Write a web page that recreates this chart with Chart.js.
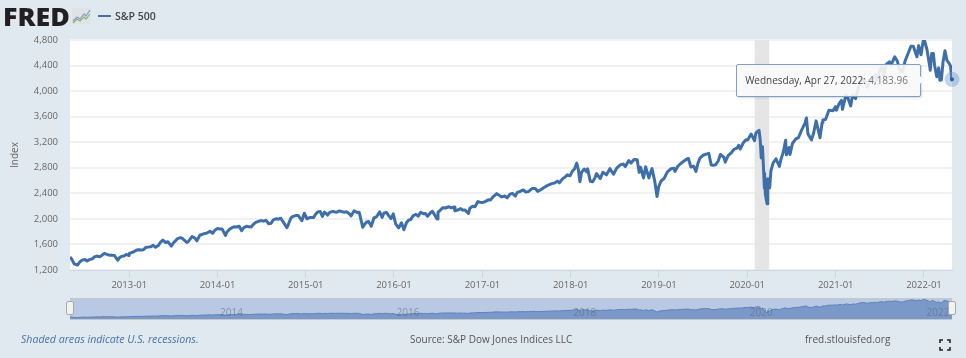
<!DOCTYPE html>
<html>
<head>
<meta charset="utf-8">
<script src="https://cdn.jsdelivr.net/npm/chart.js@4"></script>
<style>
    html, body { margin: 0; padding: 0; background: #e1e9f0; overflow: hidden; }
    body { width: 966px; height: 358px; position: relative; font-family: "Open Sans", sans-serif; color: #666; }
    canvas { position: absolute; left: 0; }
    #mainChart { top: 0; }
    #navChart { top: 294px; }
    .label { position: absolute; white-space: nowrap; }
    #logo { left: 3px; top: 0; font: 800 25px/32px "Open Sans", sans-serif; letter-spacing: 0; color: #231f20; transform: scaleX(1.07); transform-origin: left center; }
    #logoIcon { position: absolute; left: 72px; top: 8px; }
    #legendLine { position: absolute; left: 98px; top: 15px; width: 13px; height: 2px; background: #4572a7; }
    #legendText { left: 115px; top: 8px; font: 600 10.5px/16px "Open Sans", sans-serif; color: #444; }
    #note { left: 21px; top: 331px; font: italic 10.6px/16px "Open Sans", sans-serif; color: #4572a7; }
    #source { left: 410px; top: 331px; font: 10px/16px "Open Sans", sans-serif; color: #555; }
    #site { left: 805px; top: 331px; font: 10px/16px "Open Sans", sans-serif; color: #555; }
    #fullscreen { position: absolute; left: 939px; top: 339px; }
    #tooltip { position: absolute; left: 736px; top: 64px; width: 179px; height: 31px; padding-right: 4px; background: rgba(248, 248, 248, 0.9); border: 1px solid #7f9fc6; border-radius: 2px; box-shadow: 1px 1px 2px rgba(0,0,0,0.15); font: 10px/31px "Open Sans", sans-serif; color: #444; text-align: center; }
    #tooltip span { color: #777; }
    #tooltipArrow { position: absolute; left: 919px; top: 75px; width: 0; height: 0; border-top: 5px solid transparent; border-bottom: 5px solid transparent; border-left: 5px solid #f8f8f8; }
    .handle { position: absolute; top: 301px; width: 6px; height: 12px; background: #f2f2f2; border: 1px solid #a8a8a8; border-radius: 2px; }
</style>
</head>
<body>
<canvas id="mainChart" width="966" height="290"></canvas>
<canvas id="navChart" width="966" height="40"></canvas>

<div id="logo" class="label">FRED</div>
<svg id="logoIcon" width="19" height="16" viewBox="0 0 19 16">
    <rect width="19" height="16" fill="#dfe3e4"/>
    <polyline points="1,13 5,9 8,11 12,6 14,8 18,2" fill="none" stroke="#7f9fc6" stroke-width="1.2"/>
    <polyline points="1,15 5,11 8,13 12,9 14,11 18,6" fill="none" stroke="#8db07a" stroke-width="1.2"/>
</svg>
<div id="legendLine"></div>
<div id="legendText" class="label">S&amp;P 500</div>

<div id="tooltip">Wednesday, Apr 27, 2022: <span>4,183.96</span></div>
<div id="tooltipArrow"></div>

<div class="handle" style="left:66px"></div>
<div class="handle" style="left:948px"></div>

<div id="note" class="label">Shaded areas indicate U.S. recessions.</div>
<div id="source" class="label">Source: S&amp;P Dow Jones Indices LLC</div>
<div id="site" class="label">fred.stlouisfed.org</div>
<svg id="fullscreen" width="12" height="12" viewBox="0 0 12 12" fill="none" stroke="#222" stroke-width="1.6">
    <path d="M1 4V1H4M8 1H11V4M11 8V11H8M4 11H1V8"/>
</svg>

<script>
// Valores
const dates = [
    '2012-05-01','2012-05-10','2012-05-18','2012-06-01','2012-06-10','2012-06-20','2012-07-02','2012-07-10','2012-07-20','2012-08-01','2012-08-10','2012-08-20','2012-09-01','2012-09-10','2012-09-20','2012-10-01','2012-10-10','2012-10-20','2012-11-01','2012-11-09','2012-11-15','2012-11-20','2012-12-01','2012-12-10','2012-12-20','2012-12-31',
    '2013-01-02','2013-01-10','2013-01-20','2013-02-01','2013-02-10','2013-02-20','2013-03-01','2013-03-10','2013-03-20','2013-04-01','2013-04-10','2013-04-20','2013-05-01','2013-05-10','2013-05-20','2013-06-01','2013-06-10','2013-06-24','2013-07-01','2013-07-10','2013-07-20','2013-08-01','2013-08-10','2013-08-27','2013-09-01','2013-09-10','2013-09-18','2013-10-01','2013-10-08','2013-10-20','2013-11-01','2013-11-10','2013-11-20','2013-12-01','2013-12-12','2013-12-20','2013-12-31',
    '2014-01-10','2014-01-20','2014-02-03','2014-02-10','2014-02-20','2014-03-01','2014-03-10','2014-03-20','2014-04-01','2014-04-11','2014-04-20','2014-05-01','2014-05-10','2014-05-20','2014-06-01','2014-06-10','2014-06-20','2014-07-01','2014-07-10','2014-07-20','2014-08-01','2014-08-10','2014-08-20','2014-09-01','2014-09-10','2014-09-20','2014-10-01','2014-10-15','2014-10-20','2014-11-01','2014-11-10','2014-11-20','2014-12-01','2014-12-16','2014-12-26',
    '2015-01-06','2015-01-20','2015-02-02','2015-02-10','2015-02-20','2015-03-02','2015-03-11','2015-03-20','2015-04-01','2015-04-10','2015-04-24','2015-05-01','2015-05-10','2015-05-20','2015-06-01','2015-06-10','2015-06-20','2015-07-01','2015-07-08','2015-07-20','2015-08-03','2015-08-10','2015-08-25','2015-09-01','2015-09-10','2015-09-18','2015-09-29','2015-10-10','2015-10-20','2015-11-03','2015-11-13','2015-11-20','2015-12-01','2015-12-10','2015-12-20','2015-12-29',
    '2016-01-08','2016-01-20','2016-02-01','2016-02-11','2016-02-22','2016-03-01','2016-03-10','2016-03-20','2016-04-01','2016-04-10','2016-04-20','2016-05-02','2016-05-10','2016-05-19','2016-06-01','2016-06-08','2016-06-27','2016-07-01','2016-07-11','2016-07-20','2016-08-01','2016-08-15','2016-08-25','2016-09-06','2016-09-09','2016-09-20','2016-10-03','2016-10-11','2016-10-20','2016-11-04','2016-11-10','2016-11-21','2016-12-01','2016-12-13','2016-12-22',
    '2017-01-03','2017-01-12','2017-01-25','2017-02-03','2017-02-15','2017-03-01','2017-03-10','2017-03-21','2017-04-03','2017-04-13','2017-04-25','2017-05-05','2017-05-17','2017-05-25','2017-06-08','2017-06-19','2017-06-29','2017-07-10','2017-07-26','2017-08-08','2017-08-17','2017-08-30','2017-09-11','2017-09-20','2017-10-03','2017-10-15','2017-10-26','2017-11-07','2017-11-15','2017-11-28','2017-12-08','2017-12-18','2017-12-29',
    '2018-01-08','2018-01-16','2018-01-26','2018-02-02','2018-02-08','2018-02-15','2018-02-26','2018-03-08','2018-03-12','2018-03-23','2018-04-02','2018-04-11','2018-04-18','2018-05-03','2018-05-14','2018-05-29','2018-06-12','2018-06-27','2018-07-10','2018-07-25','2018-08-07','2018-08-15','2018-08-29','2018-09-07','2018-09-20','2018-10-03','2018-10-11','2018-10-17','2018-10-29','2018-11-07','2018-11-20','2018-11-30','2018-12-03','2018-12-14','2018-12-24','2018-12-31',
    '2019-01-10','2019-01-22','2019-02-05','2019-02-20','2019-03-04','2019-03-08','2019-03-20','2019-04-01','2019-04-15','2019-04-30','2019-05-03','2019-05-13','2019-05-24','2019-06-03','2019-06-12','2019-06-20','2019-07-03','2019-07-15','2019-07-26','2019-08-05','2019-08-14','2019-08-23','2019-09-03','2019-09-12','2019-09-27','2019-10-02','2019-10-15','2019-10-28','2019-11-08','2019-11-20','2019-11-27','2019-12-03','2019-12-16','2019-12-27',
    '2020-01-03','2020-01-17','2020-01-31','2020-02-06','2020-02-19','2020-02-24','2020-02-28','2020-03-04','2020-03-09','2020-03-12','2020-03-13','2020-03-16','2020-03-23','2020-03-26','2020-04-03','2020-04-08','2020-04-17','2020-04-29','2020-05-13','2020-05-19','2020-05-29','2020-06-08','2020-06-11','2020-06-22','2020-06-26','2020-07-06','2020-07-20','2020-07-31','2020-08-12','2020-08-28','2020-09-02','2020-09-08','2020-09-23','2020-10-02','2020-10-12','2020-10-28','2020-11-06','2020-11-09','2020-11-20','2020-12-04','2020-12-21','2020-12-31',
    '2021-01-04','2021-01-14','2021-01-25','2021-01-29','2021-02-12','2021-02-19','2021-03-04','2021-03-12','2021-03-24','2021-04-08','2021-04-16','2021-04-28','2021-05-12','2021-05-20','2021-06-03','2021-06-14','2021-06-18','2021-06-30','2021-07-12','2021-07-19','2021-07-29','2021-08-12','2021-08-18','2021-08-31','2021-09-02','2021-09-13','2021-09-20','2021-09-30','2021-10-04','2021-10-15','2021-10-29','2021-11-08','2021-11-18','2021-11-30','2021-12-03','2021-12-10','2021-12-20','2021-12-29',
    '2022-01-03','2022-01-13','2022-01-24','2022-01-27','2022-02-02','2022-02-09','2022-02-14','2022-02-23','2022-03-03','2022-03-08','2022-03-14','2022-03-21','2022-03-29','2022-04-06','2022-04-13','2022-04-21','2022-04-26','2022-04-27'
];
const closes = [
    1405,1358,1296,1278,1325,1355,1365,1341,1362,1375,1405,1418,1406,1429,1460,1444,1432,1433,1427,1379,1353,1387,1416,1418,1443,1426,
    1462,1472,1486,1513,1518,1512,1518,1551,1558,1563,1587,1555,1582,1633,1667,1631,1642,1573,1614,1652,1692,1706,1691,1630,1640,1683,1725,1695,1656,1744,1762,1770,1782,1806,1775,1818,1848,
    1842,1843,1742,1799,1839,1859,1877,1872,1885,1815,1865,1884,1878,1872,1924,1950,1962,1973,1965,1978,1925,1931,1986,2003,1995,2010,1946,1862,1904,2018,2039,2052,2053,1972,2088,
    2002,2023,2020,2068,2110,2117,2040,2108,2060,2102,2117,2108,2105,2125,2111,2105,2110,2077,2047,2128,2098,2104,1868,1914,1952,1958,1884,2014,2030,2109,2023,2089,2102,2052,2005,2078,
    1922,1859,1939,1829,1945,1978,1989,2049,2072,2042,2102,2081,2084,2040,2099,2119,2000,2103,2137,2173,2170,2190,2172,2186,2127,2139,2161,2136,2141,2085,2167,2198,2191,2271,2260,
    2257,2270,2298,2297,2349,2395,2372,2344,2358,2328,2388,2399,2357,2415,2433,2453,2419,2427,2477,2474,2430,2457,2488,2508,2534,2553,2560,2591,2565,2627,2651,2690,2674,
    2748,2777,2873,2762,2581,2731,2780,2738,2784,2588,2582,2642,2708,2630,2730,2690,2787,2699,2794,2846,2858,2819,2914,2872,2931,2926,2728,2809,2641,2814,2641,2760,2790,2600,2351,2507,
    2596,2632,2737,2785,2792,2743,2824,2867,2906,2946,2945,2811,2826,2744,2879,2954,2996,3014,3026,2844,2840,2847,2906,3009,2961,2887,2996,3039,3093,3108,3153,3093,3191,3240,
    3234,3329,3225,3345,3386,3225,2954,3130,2746,2480,2711,2386,2237,2630,2488,2750,2875,2940,2820,2923,3044,3232,3002,3117,3009,3180,3251,3271,3380,3508,3580,3331,3237,3348,3534,3271,3509,3550,3557,3699,3694,3756,
    3700,3795,3855,3714,3934,3906,3768,3943,3881,4097,4185,4183,4063,4159,4192,4255,4166,4297,4384,4258,4419,4460,4400,4522,4537,4468,4357,4307,4300,4471,4605,4702,4704,4567,4538,4712,4568,4793,
    4796,4659,4410,4326,4589,4587,4401,4225,4363,4170,4173,4461,4631,4481,4446,4393,4175,4183.96
];
const recessionStart = '2020-02-01';
const recessionEnd = '2020-04-01';
const hoverDate = '2022-04-27';
const hoverValue = 4183.96;
const yTicks = [1200, 1600, 2000, 2400, 2800, 3200, 3600, 4000, 4400, 4800];
const xTickDates = ['2013-01-01','2014-01-01','2015-01-01','2016-01-01','2017-01-01','2018-01-01','2019-01-01','2020-01-01','2021-01-01','2022-01-01'];
const xTickLabels = ['2013-01','2014-01','2015-01','2016-01','2017-01','2018-01','2019-01','2020-01','2021-01','2022-01'];
const navTickDates = ['2014-01-01','2016-01-01','2018-01-01','2020-01-01','2022-01-01'];
const navTickLabels = ['2014','2016','2018','2020','2022'];

const FONT = '"Open Sans", sans-serif';
const points = dates.map((d, i) => ({ x: Date.parse(d), y: closes[i] }));
const xMin = Date.parse(dates[0]);
const xMax = Date.parse(dates[dates.length - 1]);

function setTicks(scale, values) {
    scale.ticks = values.map(v => ({ value: v }));
}

function labelFrom(values, labels) {
    return v => labels[values.indexOf(v)];
}

// Fondo blanco y franja de recesión
const plotBackground = {
    id: 'plotBackground',
    beforeDatasetsDraw(chart) {
        const { ctx, chartArea: a, scales } = chart;
        ctx.save();
        const left = scales.x.getPixelForValue(Date.parse(recessionStart));
        const right = scales.x.getPixelForValue(Date.parse(recessionEnd));
        ctx.fillStyle = '#e5e5e5';
        ctx.fillRect(left, a.top, right - left, a.bottom - a.top);
        ctx.restore();
    },
    beforeDraw(chart) {
        const { ctx, chartArea: a } = chart;
        ctx.save();
        ctx.fillStyle = '#ffffff';
        ctx.fillRect(a.left, a.top, a.right - a.left, a.bottom - a.top);
        ctx.restore();
    }
};

new Chart(document.getElementById('mainChart'), {
    type: 'line',
    plugins: [plotBackground],
    data: {
        datasets: [
            { data: points, borderColor: '#3f6fa9', borderWidth: 3, pointRadius: 0, tension: 0, borderJoinStyle: 'round', clip: true, order: 3 },
            { data: [{ x: Date.parse(hoverDate), y: hoverValue }], pointRadius: 7.5, pointBackgroundColor: 'rgba(100,150,205,0.4)', pointBorderWidth: 0, clip: false, showLine: false, order: 2 },
            { data: [{ x: Date.parse(hoverDate), y: hoverValue }], pointRadius: 2, pointBackgroundColor: '#2f5f9a', pointBorderWidth: 0, clip: false, showLine: false, order: 1 }
        ]
    },
    options: {
        responsive: false,
        animation: false,
        layout: { padding: { top: 40, right: 14, left: 0, bottom: 0 } },
        plugins: { legend: { display: false }, tooltip: { enabled: false } },
        scales: {
            x: {
                type: 'linear',
                min: xMin,
                max: xMax,
                afterBuildTicks: s => setTicks(s, xTickDates.map(d => Date.parse(d))),
                afterFit: s => { s.height = 20; },
                grid: { drawOnChartArea: false, color: '#ccd6eb', tickLength: 8, tickWidth: 1 },
                border: { color: '#ccd6eb' },
                ticks: {
                    autoSkip: false, maxRotation: 0, padding: 2, color: '#666', font: { family: FONT, size: 9.5 },
                    callback: labelFrom(xTickDates.map(d => Date.parse(d)), xTickLabels)
                }
            },
            y: {
                min: 1200,
                max: 4800,
                afterBuildTicks: s => setTicks(s, yTicks),
                afterFit: s => { s.width = 70; },
                grid: { color: '#f1f1f1', lineWidth: 2, drawTicks: false },
                border: { display: false },
                title: { display: true, text: 'Index', color: '#666', font: { family: FONT, size: 10 }, padding: { top: 9, bottom: 0 } },
                ticks: {
                    padding: 12, color: '#666', font: { family: FONT, size: 9.5 },
                    callback: v => v.toLocaleString('en-US')
                }
            }
        }
    }
});

// Navegador inferior
const navBackground = {
    id: 'navBackground',
    beforeDraw(chart) {
        const { ctx, chartArea: a } = chart;
        ctx.save();
        ctx.fillStyle = '#b9c9e4';
        ctx.fillRect(a.left, a.top, a.right - a.left, a.bottom - a.top);
        ctx.strokeStyle = '#c4c8cc';
        ctx.lineWidth = 1;
        ctx.beginPath();
        ctx.moveTo(a.left, a.top - 0.5);
        ctx.lineTo(a.right, a.top - 0.5);
        ctx.moveTo(a.left, a.bottom + 0.5);
        ctx.lineTo(a.right, a.bottom + 0.5);
        ctx.stroke();
        ctx.restore();
    }
};

new Chart(document.getElementById('navChart'), {
    type: 'line',
    plugins: [navBackground],
    data: {
        datasets: [
            { data: points, borderColor: '#5d82b8', borderWidth: 1, backgroundColor: '#7b99c8', fill: 'start', pointRadius: 0, tension: 0 }
        ]
    },
    options: {
        responsive: false,
        animation: false,
        layout: { padding: { top: 5, right: 14, left: 70, bottom: 15 } },
        plugins: { legend: { display: false }, tooltip: { enabled: false } },
        scales: {
            x: {
                type: 'linear',
                min: xMin,
                max: xMax,
                afterBuildTicks: s => setTicks(s, navTickDates.map(d => Date.parse(d))),
                afterFit: s => { s.height = 0; },
                grid: { display: false },
                border: { display: false },
                ticks: {
                    autoSkip: false, maxRotation: 0, mirror: true, padding: 0, labelOffset: 14, z: 1,
                    color: 'rgba(90,100,120,0.55)', font: { family: FONT, size: 10 },
                    callback: labelFrom(navTickDates.map(d => Date.parse(d)), navTickLabels)
                }
            },
            y: {
                display: false,
                min: 1000,
                max: 4900
            }
        }
    }
});
</script>
</body>
</html>
